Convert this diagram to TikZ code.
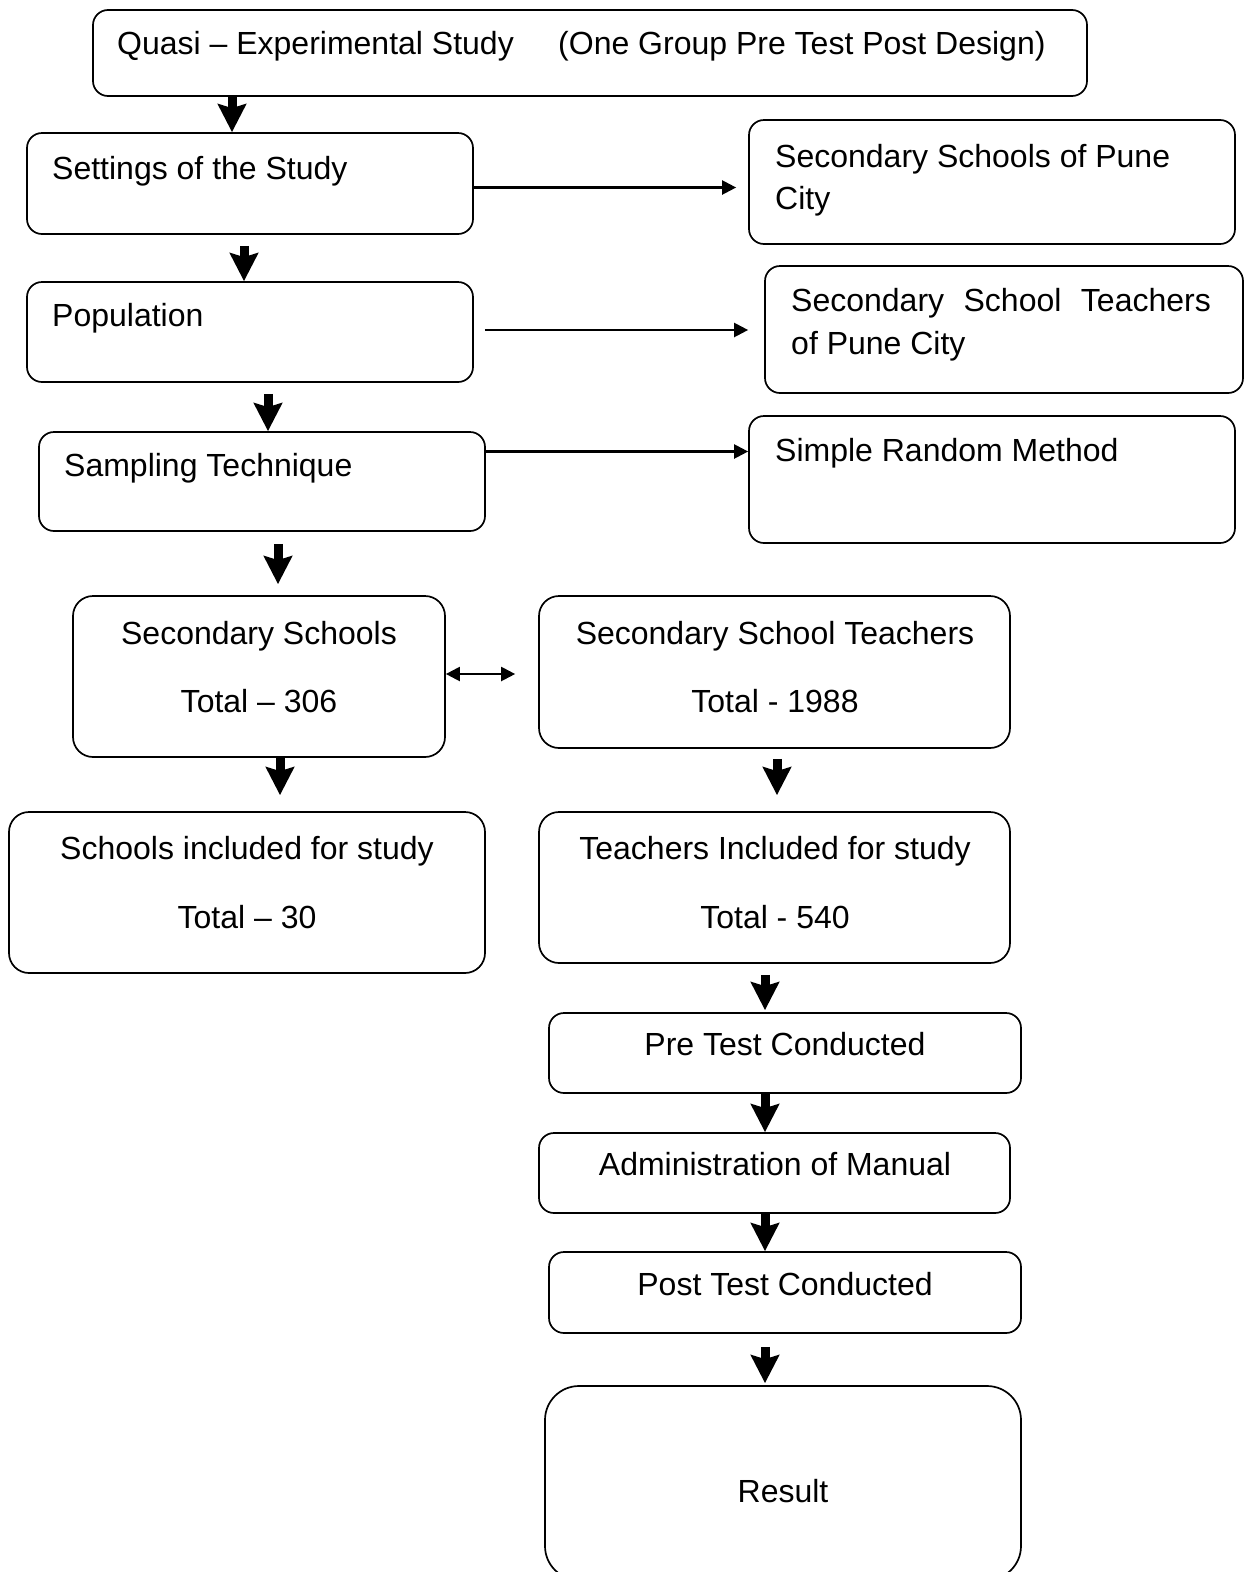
\documentclass[tikz,border=0pt]{standalone}
\usepackage{fontspec}
\setmainfont{Liberation Sans}
\usetikzlibrary{arrows.meta}

\tikzset{
  box/.style={draw, line width=1.7pt, rounded corners=15pt, inner sep=0pt, fill=white},
  txt/.style={inner sep=0pt, font=\fontsize{32}{40}\selectfont},
  bigarrow/.style={line width=9pt, -{Stealth[width=28pt,length=28pt,inset=4pt]}},
  thinarrow/.style={line width=2.2pt, -{Triangle[width=14pt,length=14pt]}},
  twoarrow/.style={line width=2.2pt, {Triangle[width=14pt,length=14pt]}-{Triangle[width=14pt,length=14pt]}},
}

\begin{document}
\begin{tikzpicture}[x=1pt,y=1pt]
\fill[white] (0,0) rectangle (1243,-1572);
\useasboundingbox (0,0) rectangle (1243,-1572);

% boxes
\node[box, minimum width=994pt, minimum height=86pt]  (quasi)    at (590,-53) {};
\node[box, minimum width=446pt, minimum height=101pt] (settings) at (250,-183.5) {};
\node[box, minimum width=486pt, minimum height=124pt] (sspune)   at (992,-182) {};
\node[box, minimum width=446pt, minimum height=100pt] (popn)     at (250,-332) {};
\node[box, minimum width=478pt, minimum height=127pt] (sstpune)  at (1004,-329.5) {};
\node[box, minimum width=446pt, minimum height=99pt]  (sampling) at (262,-481.5) {};
\node[box, minimum width=486pt, minimum height=127pt] (simple)   at (992,-479.5) {};
\node[box, minimum width=372pt, minimum height=161pt, rounded corners=20pt] (secsch)   at (259,-676.5) {};
\node[box, minimum width=471pt, minimum height=152pt, rounded corners=20pt] (secteach) at (774.5,-672) {};
\node[box, minimum width=476pt, minimum height=161pt, rounded corners=20pt] (schinc)   at (247,-892.5) {};
\node[box, minimum width=471pt, minimum height=151pt, rounded corners=20pt] (teachinc) at (774.5,-887.5) {};
\node[box, minimum width=472pt, minimum height=80pt]  (pre)      at (785,-1053) {};
\node[box, minimum width=471pt, minimum height=80pt]  (admin)    at (774.5,-1173) {};
\node[box, minimum width=472pt, minimum height=81pt]  (post)     at (785,-1292.5) {};
\node[box, minimum width=476pt, minimum height=194pt, rounded corners=34pt] (result) at (783,-1483) {};

% texts
\node[txt, anchor=base west] (quasiA) at (117,-54.6) {Quasi – Experimental Study};
\node[txt, anchor=base west] (quasiB) at (558,-54.6) {(One Group Pre Test Post Design)};
\node[txt, anchor=base west] (settingsT) at (52,-179) {Settings of the Study};
\node[txt, anchor=base west] (sspuneA) at (775,-167) {Secondary Schools of Pune};
\node[txt, anchor=base west] (sspuneB) at (775,-209) {City};
\node[txt, anchor=base west] (popnT) at (52,-326.3) {Population};
\node[txt, anchor=base west] (sstpuneA) at (791,-311.2) {Secondary\hspace{19.5pt}School\hspace{19.5pt}Teachers};
\node[txt, anchor=base west] (sstpuneB) at (791,-354.4) {of Pune City};
\node[txt, anchor=base west] (samplingT) at (64,-476.7) {Sampling Technique};
\node[txt, anchor=base west] (simpleT) at (775,-461.6) {Simple Random Method};
\node[txt, anchor=base] (secschA) at (259,-644) {Secondary Schools};
\node[txt, anchor=base] (secschB) at (259,-712.2) {Total – 306};
\node[txt, anchor=base] (secteachA) at (775,-644) {Secondary School Teachers};
\node[txt, anchor=base] (secteachB) at (775,-712.2) {Total - 1988};
\node[txt, anchor=base] (schincA) at (247,-859.6) {Schools included for study};
\node[txt, anchor=base] (schincB) at (247,-928.8) {Total – 30};
\node[txt, anchor=base] (teachincA) at (775,-859.6) {Teachers Included for study};
\node[txt, anchor=base] (teachincB) at (775,-928.8) {Total - 540};
\node[txt, anchor=base] (preT) at (785,-1055.1) {Pre Test Conducted};
\node[txt, anchor=base] (adminT) at (775,-1175.4) {Administration of Manual};
\node[txt, anchor=base] (postT) at (785,-1295.7) {Post Test Conducted};
\node[txt, anchor=base] (resultT) at (783,-1502.2) {Result};

% main flow arrows
\draw[bigarrow] ([xshift=-358pt]quasi.south) -- ([xshift=-18pt]settings.north);
\draw[bigarrow] ([xshift=-6pt,yshift=-11pt]settings.south) -- ([xshift=-6pt]popn.north);
\draw[bigarrow] ([xshift=18pt,yshift=-11pt]popn.south) -- ([xshift=6pt]sampling.north);
\draw[bigarrow] ([xshift=16pt,yshift=-12pt]sampling.south) -- ([xshift=19pt,yshift=11pt]secsch.north);
\draw[bigarrow] ([xshift=21pt]secsch.south) -- ([xshift=33pt,yshift=16pt]schinc.north);
\draw[bigarrow] ([xshift=2.5pt,yshift=-10pt]secteach.south) -- ([xshift=2.5pt,yshift=16pt]teachinc.north);
\draw[bigarrow] ([xshift=-9.5pt,yshift=-11pt]teachinc.south) -- ([xshift=-20pt,yshift=2pt]pre.north);
\draw[bigarrow] ([xshift=-20pt]pre.south) -- ([xshift=-9.5pt]admin.north);
\draw[bigarrow] ([xshift=-9.5pt]admin.south) -- ([xshift=-20pt]post.north);
\draw[bigarrow] ([xshift=-20pt,yshift=-13pt]post.south) -- ([xshift=-18pt,yshift=2pt]result.north);

% side arrows
\draw[thinarrow] ([yshift=-4pt]settings.east) -- ([xshift=-12pt,yshift=-5.5pt]sspune.west);
\draw[thinarrow] ([xshift=11pt,yshift=2pt]popn.east) -- ([xshift=-16pt,yshift=-0.5pt]sstpune.west);
\draw[thinarrow] ([yshift=30pt]sampling.east) -- ([yshift=28pt]simple.west);
\draw[twoarrow] ([yshift=2.5pt]secsch.east) -- ([xshift=-23pt,yshift=-2pt]secteach.west);
\end{tikzpicture}
\end{document}
